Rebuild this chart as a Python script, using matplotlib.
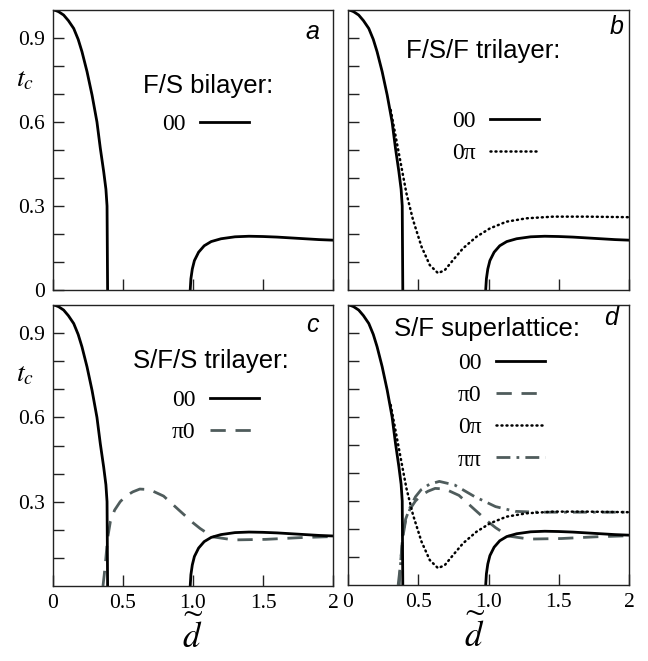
import matplotlib
matplotlib.use('Agg')
import matplotlib.pyplot as plt
import numpy as np

plt.rcParams['mathtext.fontset'] = 'stix'

# 00 state, first branch (steep drop) and re-entrant branch
d_00_low = [0, 0.02, 0.04, 0.076, 0.11, 0.148, 0.18, 0.207, 0.243, 0.279, 0.314,
            0.338, 0.362, 0.378, 0.386, 0.388, 0.39]
tc_00_low = [1.0, 0.998, 0.994, 0.982, 0.962, 0.934, 0.895, 0.851, 0.78, 0.696, 0.60,
             0.506, 0.423, 0.36, 0.30, 0.15, 0.0]
d_00_high = [0.98, 0.985, 0.995, 1.01, 1.04, 1.08, 1.13, 1.2, 1.3, 1.4, 1.5,
             1.6, 1.7, 1.8, 1.9, 2.0]
tc_00_high = [0.0, 0.04, 0.075, 0.105, 0.135, 0.158, 0.173, 0.183, 0.19, 0.192, 0.191,
              0.189, 0.186, 0.183, 0.18, 0.178]

# 0pi state
d_0pi = [0.304, 0.344, 0.38, 0.416, 0.463, 0.523, 0.582, 0.641, 0.689, 0.748, 0.819,
         0.914, 1.01, 1.128, 1.27, 1.46, 1.70, 2.0]
tc_0pi = [0.643, 0.536, 0.44, 0.345, 0.25, 0.155, 0.089, 0.06, 0.071, 0.107, 0.149,
          0.19, 0.22, 0.244, 0.256, 0.262, 0.262, 0.26]

# pi0 state
d_pi0 = [0.357, 0.366, 0.376, 0.39, 0.41, 0.44, 0.48, 0.52, 0.57, 0.62, 0.69, 0.79,
         0.9, 1.0, 1.05, 1.14, 1.29, 1.52, 1.76, 2.0]
tc_pi0 = [0.0, 0.04, 0.09, 0.17, 0.23, 0.27, 0.30, 0.32, 0.335, 0.345, 0.343, 0.32,
          0.27, 0.225, 0.205, 0.175, 0.164, 0.166, 0.172, 0.176]

# pipi state
d_pipi = [0.365, 0.375, 0.39, 0.41, 0.44, 0.48, 0.52, 0.58, 0.65, 0.76, 0.90, 1.05,
          1.19, 1.35, 1.48, 1.7, 2.0]
tc_pipi = [0.0, 0.08, 0.18, 0.235, 0.275, 0.315, 0.34, 0.36, 0.37, 0.357, 0.316, 0.28,
           0.263, 0.26, 0.26, 0.26, 0.26]

panel_titles = ['F/S bilayer:', 'F/S/F trilayer:', 'S/F/S trilayer:', 'S/F superlattice:']
panel_letters = ['a', 'b', 'c', 'd']
legend_order = ['00', 'π0', '0π', 'ππ']

gray = '#4f5c5c'
serif = 'Liberation Serif'
sans = 'Liberation Sans'

fig = plt.figure(figsize=(6.48, 6.61), dpi=100)
W, H = 648, 661
boxes = [(53, 10, 333, 290), (348, 10, 629, 290),
         (53, 305, 333, 586), (348, 305, 629, 585)]
axes = []
for (l, t, r, b) in boxes:
    axes.append(fig.add_axes([l / W, 1 - b / H, (r - l) / W, (b - t) / H]))


def solid(ax):
    ax.plot(d_00_low, tc_00_low, color='black', lw=2.0, solid_joinstyle='round',
            label='00')
    ax.plot(d_00_high, tc_00_high, color='black', lw=2.0, solid_joinstyle='round')


def dotted(ax):
    ax.plot(d_0pi, tc_0pi, color='black', lw=1.8, linestyle=(0, (0.4, 1.6)),
            dash_capstyle='round', label='0π')


def dashed(ax):
    ax.plot(d_pi0, tc_pi0, color=gray, lw=2.0, linestyle=(0, (5.5, 3.5)), label='π0')


def dashdot(ax):
    ax.plot(d_pipi, tc_pipi, color=gray, lw=2.0, linestyle=(0, (5, 2.2, 1, 2.2)),
            label='ππ')


ax_a, ax_b, ax_c, ax_d = axes
solid(ax_a)
solid(ax_b)
dotted(ax_b)
dashed(ax_c)
solid(ax_c)
dashed(ax_d)
dashdot(ax_d)
dotted(ax_d)
solid(ax_d)

for i, ax in enumerate(axes):
    ax.set_xlim(0, 2)
    ax.set_ylim(0, 1.0)
    for s in ax.spines.values():
        s.set_linewidth(1.0)
        s.set_color('#222222')
    ax.tick_params(direction='in', length=8, width=1.0, top=False, right=False,
                   labelsize=15.5, pad=6, color='#222222')
    ax.set_yticks(np.arange(0.1, 1.0, 0.1))
    ax.set_xticks([0, 0.5, 1.0, 1.5, 2])
    if i in (0, 2):
        ylab = {0.3: '0.3', 0.6: '0.6', 0.9: '0.9'}
        if i == 0:
            ax.set_yticks(np.arange(0.0, 1.0, 0.1))
            ylab[0.0] = '0'
        ax.set_yticklabels([ylab.get(round(v, 1), '') for v in ax.get_yticks()],
                           family=serif)
        ax.text(-0.1, 0.755, '$t_c$', transform=ax.transAxes, fontsize=20,
                ha='center', va='center')
    else:
        ax.set_yticklabels([])
    if i in (2, 3):
        ax.set_xticklabels(['0', '0.5', '1.0', '1.5', '2'], family=serif)
        xl = 0.50 if i == 2 else 0.45
        ax.text(xl, -0.175, r'$\widetilde{d}$', transform=ax.transAxes, fontsize=25,
                ha='center', va='center')
    else:
        ax.set_xticklabels([])

# panel letters
for ax, letter, pos in zip(axes, panel_letters,
                           [(0.925, 0.92), (0.957, 0.94), (0.925, 0.93), (0.935, 0.955)]):
    ax.text(pos[0], pos[1], letter, transform=ax.transAxes, family=sans,
            style='italic', fontsize=18, ha='center', va='center')

# titles of the legends
for ax, title, pos in zip(axes, panel_titles,
                          [(0.32, 0.73), (0.205, 0.853), (0.286, 0.80), (0.164, 0.915)]):
    ax.text(pos[0], pos[1], title, transform=ax.transAxes, family=sans,
            fontsize=18.5, ha='left', va='center')

# legends, entries in fixed order
for ax, pos in zip(axes, [(0.39, 0.63), (0.37, 0.64), (0.425, 0.70), (0.39, 0.83)]):
    handles, labels = ax.get_legend_handles_labels()
    pairs = sorted(zip(handles, labels), key=lambda p: legend_order.index(p[1]))
    ax.legend([p[0] for p in pairs], [p[1] for p in pairs],
              loc='upper left', bbox_to_anchor=pos, markerfirst=False, frameon=False,
              borderaxespad=0, borderpad=0, handlelength=2.1, handletextpad=0.6,
              labelspacing=0.45, prop={'family': serif, 'size': 17})

fig.savefig('out.png', dpi=100)
